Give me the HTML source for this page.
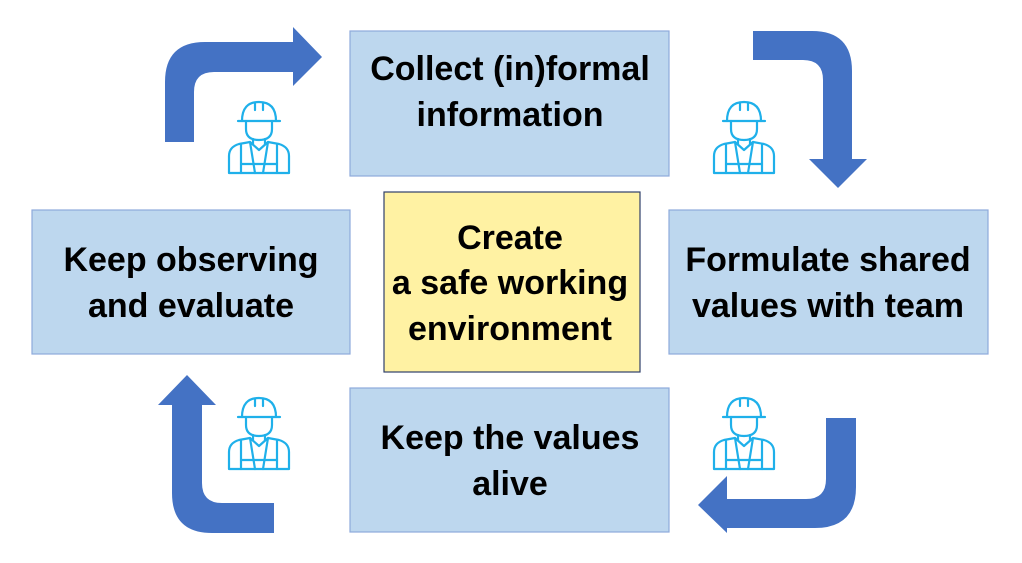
<!DOCTYPE html>
<html><head><meta charset="utf-8"><style>
html,body{margin:0;padding:0;background:#fff;}
svg{display:block;}
text{font-family:"Liberation Sans",sans-serif;font-weight:bold;font-size:34px;fill:#000;text-anchor:middle;}
</style></head><body>
<svg width="1022" height="563" viewBox="0 0 1022 563" xmlns="http://www.w3.org/2000/svg">
<defs>
<g id="w" fill="none" stroke="#1fb0ea" stroke-width="2.2" stroke-linejoin="round" stroke-linecap="round">
  <path d="M13 19 Q13 0 30 0 Q47 0 47 19"/>
  <line x1="9" y1="19" x2="51" y2="19"/>
  <path d="M26 1 L26 8 M34 1 L34 8"/>
  <path d="M17 19 L17 27 Q17 38 30 38 Q43 38 43 27 L43 19"/>
  <path d="M24 37 L24 42 M36 37 L36 42"/>
  <path d="M0 71 L0 54 Q0 45 10 42 L21 40 L30 48 L39 40 L50 42 Q60 45 60 54 L60 71 Z"/>
  <path d="M12 43 L12 71 M48 43 L48 71"/>
  <path d="M21 40 L26 71 M39 40 L34 71"/>
  <line x1="12" y1="62" x2="48" y2="62"/>
</g>
</defs>

<g fill="#bdd7ee" stroke="#8eaadb" stroke-width="1.2">
  <rect x="350" y="31" width="319" height="145"/>
  <rect x="32" y="210" width="318" height="144"/>
  <rect x="669" y="210" width="319" height="144"/>
  <rect x="350" y="388" width="319" height="144"/>
</g>
<rect x="384" y="192" width="256" height="180" fill="#fff2a3" stroke="#2f3f6b" stroke-width="1.2"/>

<g fill="#4472c4">
  <path d="M165 142 L165 82 Q165 42 205 42 L293 42 L293 27 L322 57 L293 86 L293 72 L214 72 Q194 72 194 92 L194 142 Z"/>
  <path d="M753 31 L812 31 Q852 31 852 71 L852 159 L867 159 L838 188 L809 159 L823 159 L823 80 Q823 60 803 60 L753 60 Z"/>
  <path d="M856 418 L856 487 Q856 528 815 528 L727 528 L727 533 L698 505 L727 476 L727 499 L806 499 Q826 499 826 479 L826 418 Z"/>
  <path d="M274 533 L212 533 Q172 533 172 493 L172 405 L158 405 L187 375 L216 405 L202 405 L202 483 Q202 503 222 503 L274 503 Z"/>
</g>

<use href="#w" x="229" y="102"/>
<use href="#w" x="714" y="102"/>
<use href="#w" x="229" y="398"/>
<use href="#w" x="714" y="398"/>

<text x="510" y="80">Collect (in)formal</text>
<text x="510" y="126">information</text>
<text x="191" y="271">Keep observing</text>
<text x="191" y="317">and evaluate</text>
<text x="828" y="271">Formulate shared</text>
<text x="828" y="317">values with team</text>
<text x="510" y="249">Create</text>
<text x="510" y="294">a safe working</text>
<text x="510" y="340">environment</text>
<text x="510" y="449">Keep the values</text>
<text x="510" y="495">alive</text>
</svg>
</body></html>
